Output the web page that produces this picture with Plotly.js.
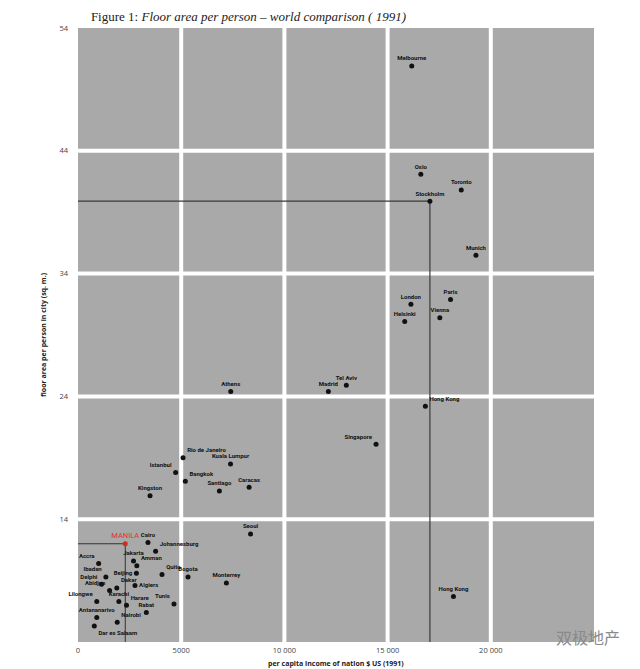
<!DOCTYPE html>
<html>
<head>
<meta charset="utf-8">
<script src="https://cdn.plot.ly/plotly-3.0.1.min.js"></script>
<style>html,body{margin:0;padding:0;background:#fff;}#chart{width:640px;height:669px;}</style>
</head>
<body>
<div id="chart"></div>
<script>
// ---- data ----
const cities = ['Melbourne','Oslo','Toronto','Stockholm','Munich','Paris','London','Vienna','Helsinki','Tel Aviv','Madrid','Athens','Hong Kong','Singapore','Rio de Janeiro','Kuala Lumpur','Istanbul','Bangkok','Santiago','Caracas','Kingston','Seoul','MANILA','Cairo','Johannesburg','Accra','Jakarta','Amman','Ibadan','Beijing','Quito','Bogota','Monterrey','Delphi','Dakar','Algiers','Abidjan','Lilongwe','Karachi','Harare','Tunis','Rabat','Antananarivo','Nairobi','Dar es Salaam','Hong Kong'];
const income = [16170,16610,18570,17050,19280,18050,16130,17530,15830,13000,12130,7400,16830,14440,5090,7390,4730,5200,6850,8290,3490,8360,2290,3390,3760,1000,2690,2850,1350,2830,4070,5330,7190,1140,1880,2760,1530,910,1980,2350,4650,3310,910,1900,790,18190];
const floorArea = [50.9,42.1,40.8,39.9,35.5,31.9,31.5,30.4,30.1,24.9,24.4,24.4,23.2,20.1,19.0,18.5,17.8,17.1,16.3,16.6,15.9,12.8,12.0,12.1,11.4,10.4,10.6,10.2,9.3,9.6,9.5,9.3,8.8,8.7,8.4,8.6,8.2,7.3,7.3,7.0,7.1,6.4,6.0,5.6,5.3,7.7];
const xTickVals = [0,5000,10000,15000,20000];
const xTickText = ['0','5000','10 000','15 000','20 000'];
const yTickVals = [14,24,34,44,54];
const highlightCity = 'MANILA';
const referenceCity = 'Stockholm';

// ---- styles ----
const labelPos = ['top center','top center','top center','top center','top center','top center','top center','top center','top center','top center','top center','top center','top right','top left','top right','top center','top left','top right','top center','top center','top center','top center','top center','top center','top right','top left','top center','top right','top left','middle left','top right','top center','top center','top left','top right','middle right','top left','top left','top center','top right','top left','top center','top center','top right','bottom right','top center'];

const xMin = 0, xMax = 25000, yMin = 4, yMax = 54;
const idx = cities.map((c,i)=>i);
const normal = idx.filter(i => cities[i] !== highlightCity);
const hi = idx.filter(i => cities[i] === highlightCity);

const traces = [
  {
    type:'scatter', mode:'markers+text',
    x: normal.map(i=>income[i]), y: normal.map(i=>floorArea[i]),
    text: normal.map(i=>cities[i]), textposition: normal.map(i=>labelPos[i]),
    marker:{color:'#111', size:5},
    textfont:{family:'Roboto, Arial, sans-serif', size:6, color:'#111', weight:700},
    cliponaxis:false, hoverinfo:'none'
  },
  {
    type:'scatter', mode:'markers+text',
    x: hi.map(i=>income[i]), y: hi.map(i=>floorArea[i]),
    text: hi.map(i=>cities[i]), textposition: hi.map(i=>labelPos[i]),
    marker:{color:'#d42a22', size:5},
    textfont:{family:'Roboto, Arial, sans-serif', size:7.5, color:'#e0322a'},
    cliponaxis:false, hoverinfo:'none'
  }
];

const shapes = [];
// white grid "gaps" between tiles
xTickVals.filter(v=>v>xMin && v<xMax).forEach(v=>shapes.push({type:'line', xref:'x', yref:'paper', x0:v, x1:v, y0:0, y1:1, line:{color:'#fff', width:4}, layer:'below'}));
yTickVals.filter(v=>v>yMin && v<yMax).forEach(v=>shapes.push({type:'line', xref:'paper', yref:'y', x0:0, x1:1, y0:v, y1:v, line:{color:'#fff', width:4}, layer:'below'}));
// reference lines for highlighted & reference cities
[[highlightCity,'#333',1],[referenceCity,'#3a3a3a',1.2]].forEach(([name,col,w])=>{
  const i = cities.indexOf(name);
  shapes.push({type:'line', xref:'x', yref:'y', x0:xMin, x1:income[i], y0:floorArea[i], y1:floorArea[i], line:{color:col, width:w}, layer:'below'});
  shapes.push({type:'line', xref:'x', yref:'y', x0:income[i], x1:income[i], y0:floorArea[i], y1:yMin, line:{color:col, width:w}, layer:'below'});
});

const layout = {
  width:640, height:669,
  margin:{l:78, r:46, t:28, b:27},
  paper_bgcolor:'#fff', plot_bgcolor:'#a9a9a9',
  showlegend:false,
  title:{text:'Figure 1: <i>Floor area per person – world comparison ( 1991)</i>',
    font:{family:'Liberation Serif, Times New Roman, serif', size:13, color:'#222'},
    x:0.142, xanchor:'left', xref:'container', y:0.975, yanchor:'middle', yref:'container'},
  xaxis:{range:[xMin,xMax], tickvals:xTickVals, ticktext:xTickText, showgrid:false, zeroline:false, showline:false, ticks:'',
    ticklabelstandoff:2, tickfont:{family:'Open Sans, Arial, sans-serif', size:7.5, color:'#444'}, fixedrange:true},
  yaxis:{range:[yMin,yMax], tickvals:yTickVals, showgrid:false, zeroline:false, showline:false, ticks:'',
    ticklabelstandoff:9, tickfont:{family:'Open Sans, Arial, sans-serif', size:7.5, color:'#444'}, fixedrange:true},
  shapes: shapes,
  annotations:[
    {text:'per capita income of nation $ US (1991)', xref:'paper', yref:'paper', x:0.5, y:0, xanchor:'center', yanchor:'top', yshift:-15, showarrow:false,
     font:{family:'Open Sans, Arial, sans-serif', size:7, color:'#222', weight:700}},
    {text:'floor area per person in city (sq. m.)', xref:'paper', yref:'paper', x:0, y:0.5, xanchor:'center', yanchor:'middle', xshift:-35, textangle:-90, showarrow:false,
     font:{family:'Open Sans, Arial, sans-serif', size:7, color:'#222', weight:700}},
    {text:'双极地产', xref:'paper', yref:'paper', x:0.988, y:0.008, xanchor:'center', yanchor:'middle', showarrow:false,
     font:{family:'Noto Sans CJK SC, sans-serif', size:16, color:'#8a8a8a'}}
  ]
};

Plotly.newPlot('chart', traces, layout, {displayModeBar:false, staticPlot:true});
</script>
</body>
</html>
